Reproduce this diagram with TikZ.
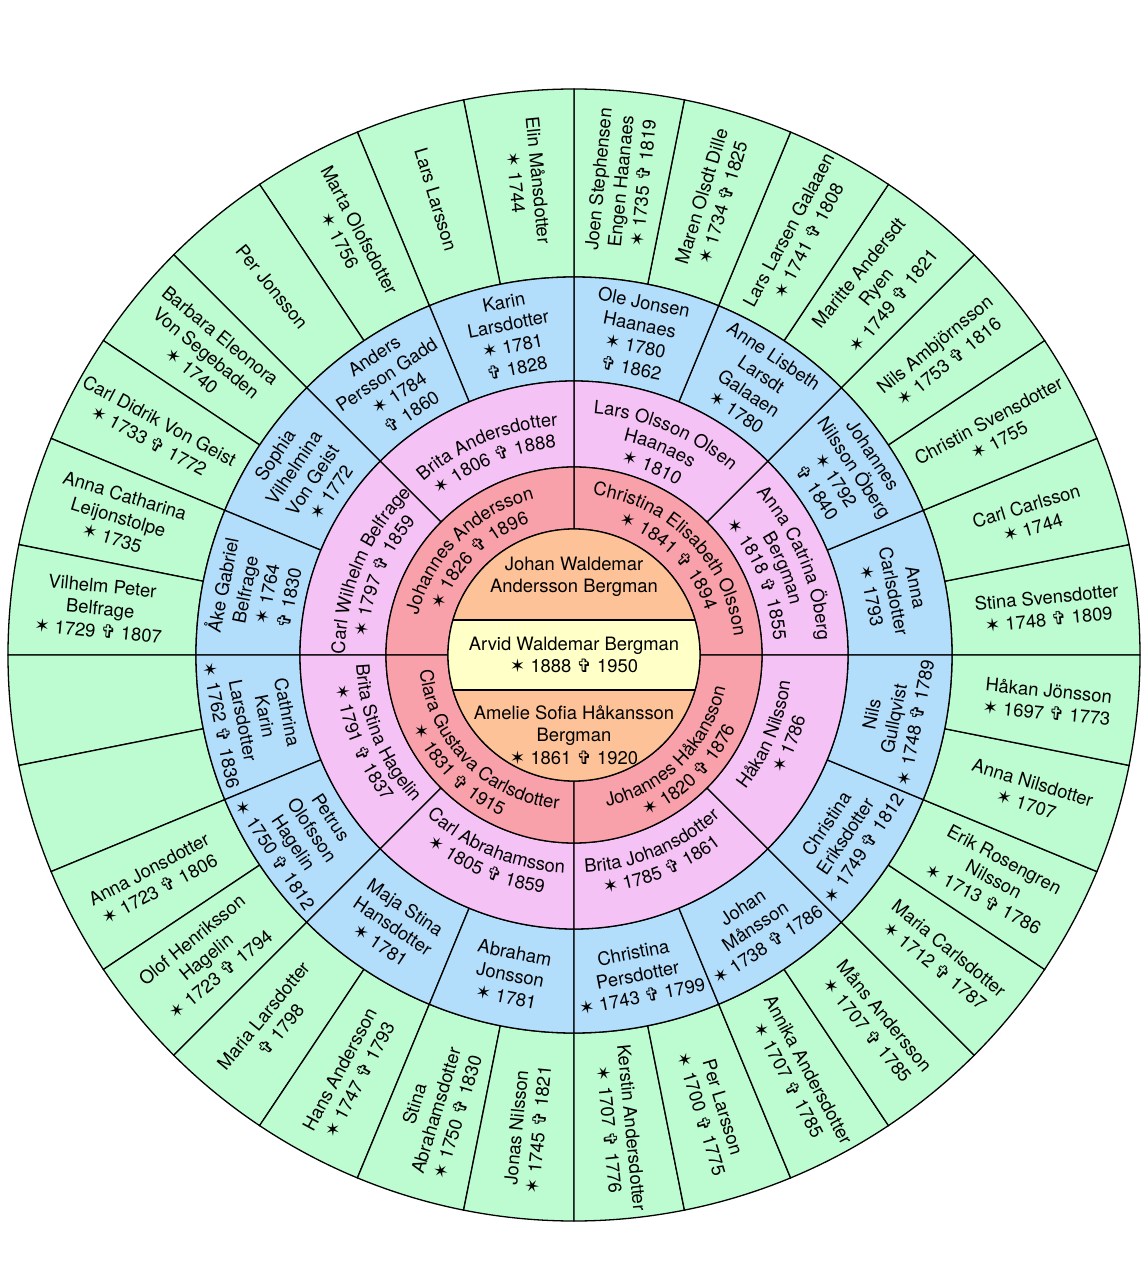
\documentclass[tikz,border=0pt]{standalone}
\usepackage{fontspec}
\setmainfont{TeX Gyre Heros}
\newfontfamily\symfam{DejaVu Sans}[Scale=1.0]
\usetikzlibrary{decorations.text}
\definecolor{fcGreen}{HTML}{BDFBD1}
\definecolor{fcBlue}{HTML}{B2DDFB}
\definecolor{fcPink}{HTML}{F5C2F5}
\definecolor{fcRed}{HTML}{F8A1AA}
\definecolor{fcOrange}{HTML}{FDC298}
\definecolor{fcYellow}{HTML}{FFFFC8}
\newcommand\born{{\symfam ✶}\space}
\newcommand\died{{\symfam ✞}\space}
\newcommand\ringpart[5]{\filldraw[cell, fill=#1] (#4:#2pt) -- (#4:#3pt)
  arc[start angle=#4, end angle=#5, radius=#3pt] -- (#5:#2pt)
  arc[start angle=#5, end angle=#4, radius=#2pt] -- cycle;}
\newcommand\arcup[3]{\path[decorate, decoration={text along path,
  text align=center, text={#3}}] ({#1+50}:#2pt) arc[start angle={#1+50}, end angle={#1-50}, radius=#2pt];}
\newcommand\arcdown[3]{\path[decorate, decoration={text along path,
  text align=center, text={#3}}] ({#1-50}:#2pt) arc[start angle={#1-50}, end angle={#1+50}, radius=#2pt];}

\begin{document}
\begin{tikzpicture}[
  cell/.style={draw=black, line width=1.3pt},
  ctr/.style={align=center, inner sep=0pt},
  txt/.style={align=center, inner sep=0pt}
]
\fontsize{18.4pt}{22.5pt}\selectfont
\useasboundingbox (-574pt,-625pt) rectangle (574pt,655pt);

\foreach \k in {0,...,31}{
  \pgfmathsetmacro\angA{\k*11.25}\pgfmathsetmacro\angB{\angA+11.25}
  \ringpart{fcGreen}{378}{566}{\angA}{\angB}}
\foreach \k in {0,...,15}{
  \pgfmathsetmacro\angA{\k*22.5}\pgfmathsetmacro\angB{\angA+22.5}
  \ringpart{fcBlue}{274}{378}{\angA}{\angB}}
\foreach \k in {0,...,7}{
  \pgfmathsetmacro\angA{\k*45}\pgfmathsetmacro\angB{\angA+45}
  \ringpart{fcPink}{188}{274}{\angA}{\angB}}
\foreach \k in {0,...,3}{
  \pgfmathsetmacro\angA{\k*90}\pgfmathsetmacro\angB{\angA+90}
  \ringpart{fcRed}{126}{188}{\angA}{\angB}}

\fill[fcOrange] (0,0) circle[radius=126pt];
\begin{scope}
  \clip (0,0) circle[radius=126pt];
  \fill[fcYellow] (-130pt,-35pt) rectangle (130pt,35pt);
  \draw[cell] (-130pt,35pt) -- (130pt,35pt) (-130pt,-35pt) -- (130pt,-35pt);
\end{scope}
\draw[cell] (0,0) circle[radius=126pt];

\node[ctr] (fa) at (0,78pt) {Johan Waldemar\\Andersson Bergman};
\node[ctr] (me) at (0,0) {Arvid Waldemar Bergman\\\born 1888 \died 1950};
\node[ctr] (mo) at (0,-80pt) {Amelie Sofia Håkansson\\Bergman\\\born 1861 \died 1920};

\arcup{135}{161}{Johannes Andersson}
\arcup{135}{139}{{\symfam ✶} 1826 {\symfam ✞} 1896}
\arcup{45}{161}{Christina Elisabeth Olsson}
\arcup{45}{139}{{\symfam ✶} 1841 {\symfam ✞} 1894}
\arcdown{225}{155}{Clara Gustava Carlsdotter}
\arcdown{225}{177}{{\symfam ✶} 1831 {\symfam ✞} 1915}
\arcdown{315}{155}{Johannes Håkansson}
\arcdown{315}{177}{{\symfam ✶} 1820 {\symfam ✞} 1876}

\arcup{157.5}{229}{Carl Wilhelm Belfrage}
\arcup{157.5}{207}{{\symfam ✶} 1797 {\symfam ✞} 1859}
\arcup{112.5}{230}{Brita Andersdotter}
\arcup{112.5}{208}{{\symfam ✶} 1806 {\symfam ✞} 1888}
\arcup{67.5}{242}{Lars Olsson Olsen}
\arcup{67.5}{220}{Haanaes}
\arcup{67.5}{198}{{\symfam ✶} 1810}
\arcup{22.5}{244}{Anna Catrina Öberg}
\arcup{22.5}{222}{Bergman}
\arcup{22.5}{200}{{\symfam ✶} 1818 {\symfam ✞} 1855}
\arcdown{202.5}{218}{Brita Stina Hagelin}
\arcdown{202.5}{240}{{\symfam ✶} 1791 {\symfam ✞} 1837}
\arcdown{247.5}{218}{Carl Abrahamsson}
\arcdown{247.5}{240}{{\symfam ✶} 1805 {\symfam ✞} 1859}
\arcdown{292.5}{218}{Brita Johansdotter}
\arcdown{292.5}{240}{{\symfam ✶} 1785 {\symfam ✞} 1861}
\arcdown{337.5}{218}{Håkan Nilsson}
\arcdown{337.5}{240}{{\symfam ✶} 1786}

\foreach \ang/\who [count=\k] in {
  11.25/{Anna\\Carlsdotter\\\born 1793},
  33.75/{Johannes\\Nilsson Öberg\\\born 1792\\\died 1840},
  56.25/{Anne Lisbeth\\Larsdt\\Galaaen\\\born 1780},
  78.75/{Ole Jonsen\\Haanaes\\\born 1780\\\died 1862},
  101.25/{Karin\\Larsdotter\\\born 1781\\\died 1828},
  123.75/{Anders\\Persson Gadd\\\born 1784\\\died 1860},
  146.25/{Sophia\\Vilhelmina\\Von Geist\\\born 1772},
  168.75/{Åke Gabriel\\Belfrage\\\born 1764\\\died 1830}}
  \node[txt, rotate=\ang-90] (bt\k) at (\ang:326pt) {\who};
\foreach \ang/\who [count=\k] in {
  191.25/{Cathrina\\Karin\\Larsdotter\\\born 1762 \died 1836},
  213.75/{Petrus\\Olofsson\\Hagelin\\\born 1750 \died 1812},
  236.25/{Maja Stina\\Hansdotter\\\born 1781},
  258.75/{Abraham\\Jonsson\\\born 1781},
  281.25/{Christina\\Persdotter\\\born 1743 \died 1799},
  303.75/{Johan\\Månsson\\\born 1738 \died 1786},
  326.25/{Christina\\Eriksdotter\\\born 1749 \died 1812},
  348.75/{Nils\\Gullqvist\\\born 1748 \died 1789}}
  \node[txt, rotate=\ang+90] (bb\k) at (\ang:326pt) {\who};

\foreach \ang/\who [count=\k] in {
  84.375/{Joen Stephensen\\Engen Haanaes\\\born 1735 \died 1819},
  73.125/{Maren Olsdt Dille\\\born 1734 \died 1825},
  61.875/{Lars Larsen Galaaen\\\born 1741 \died 1808},
  50.625/{Maritte Andersdt\\Ryen\\\born 1749 \died 1821},
  39.375/{Nils Ambjörnsson\\\born 1753 \died 1816},
  28.125/{Christin Svensdotter\\\born 1755},
  16.875/{Carl Carlsson\\\born 1744},
  5.625/{Stina Svensdotter\\\born 1748 \died 1809},
  -5.625/{Håkan Jönsson\\\born 1697 \died 1773},
  -16.875/{Anna Nilsdotter\\\born 1707},
  -28.125/{Erik Rosengren\\Nilsson\\\born 1713 \died 1786},
  -39.375/{Maria Carlsdotter\\\born 1712 \died 1787},
  -50.625/{Måns Andersson\\\born 1707 \died 1785},
  -61.875/{Annika Andersdotter\\\born 1707 \died 1785},
  -73.125/{Per Larsson\\\born 1700 \died 1775},
  -84.375/{Kerstin Andersdotter\\\born 1707 \died 1776}}
  \node[txt, rotate=\ang] (gr\k) at (\ang:476pt) {\who};
\foreach \ang/\who [count=\k] in {
  95.625/{Elin Månsdotter\\\born 1744},
  106.875/{Lars Larsson},
  118.125/{Marta Olofsdotter\\\born 1756},
  129.375/{Per Jonsson},
  140.625/{Barbara Eleonora\\Von Segebaden\\\born 1740},
  151.875/{Carl Didrik Von Geist\\\born 1733 \died 1772},
  163.125/{Anna Catharina\\Leijonstolpe\\\born 1735},
  174.375/{Vilhelm Peter\\Belfrage\\\born 1729 \died 1807},
  208.125/{Anna Jonsdotter\\\born 1723 \died 1806},
  219.375/{Olof Henriksson\\Hagelin\\\born 1723 \died 1794},
  230.625/{Maria Larsdotter\\\died 1798},
  241.875/{Hans Andersson\\\born 1747 \died 1793},
  253.125/{Stina\\Abrahamsdotter\\\born 1750 \died 1830},
  264.375/{Jonas Nilsson\\\born 1745 \died 1821}}
  \node[txt, rotate=\ang-180] (gl\k) at (\ang:476pt) {\who};
\end{tikzpicture}
\end{document}
